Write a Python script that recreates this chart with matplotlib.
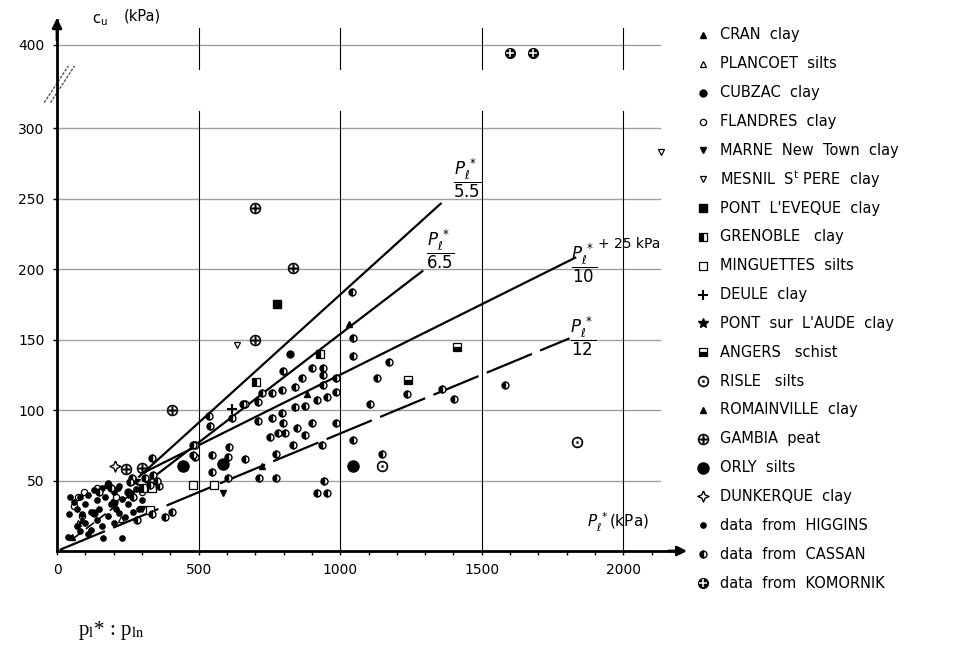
import numpy as np
import matplotlib
matplotlib.use("Agg")
import matplotlib.pyplot as plt

plt.rcParams['font.family'] = ['DejaVu Sans']

# ---- data (p_l* in kPa, c_u in kPa) ----
cassan_x = [1046, 1046, 799, 901, 940, 986, 940, 866, 940, 841, 795, 760, 724, 986, 954, 919, 710, 664,
            841, 876, 537, 618, 541, 710, 760, 795, 799, 848, 781, 806, 753, 876, 901, 986, 1046, 488,
            488, 548, 608, 604, 664, 548, 604, 714, 774, 774, 834, 936, 943, 919, 954, 1042, 1173, 1131,
            1237, 1360, 1403, 1106, 1148, 1583, 481, 481, 657,
            265, 310, 330, 340, 360, 258, 336, 353, 283, 336, 382, 406, 150, 190, 270]
cassan_y = [151, 138, 128, 130, 130, 123, 125, 123, 118, 116, 114, 112, 112, 113, 109, 107, 106, 104,
            102, 103, 96, 94, 89, 92, 94, 98, 91, 87, 84, 84, 81, 82, 91, 91, 79, 75,
            67, 68, 74, 67, 65, 56, 52, 52, 52, 69, 75, 75, 50, 41, 41, 184, 134, 123,
            111, 115, 108, 104, 69, 118, 75, 68, 104,
            52, 52, 47, 54, 46, 49, 66, 50, 22, 26, 24, 28, 42, 45, 38]
higgins_x = [60, 70, 80, 90, 100, 110, 120, 130, 140, 150, 160, 170, 180, 190, 200, 210, 220, 230,
             250, 260, 270, 280, 300, 100, 120, 140, 160, 180, 200, 220, 163, 110, 70, 80, 230, 290,
             240, 39, 46, 42, 216]
higgins_y = [35, 30, 38, 26, 33, 40, 28, 43, 36, 30, 45, 38, 48, 33, 42, 30, 46, 37,
             33, 41, 28, 44, 36, 20, 15, 22, 18, 25, 20, 27, 9, 12, 18, 14, 9, 30,
             24, 10, 38, 26, 45]
cubzac_x = [823, 130, 200, 250, 180]
cubzac_y = [140, 27, 35, 42, 47]
flandres_x = [60, 75, 95, 140, 210, 300, 90]
flandres_y = [32, 38, 42, 45, 38, 42, 25]
cran_x = [1032, 883, 53]
cran_y = [161, 111, 10]
romainville_x = [724, 90]
romainville_y = [60, 22]
plancoet_x = [226, 75]
plancoet_y = [23, 20]
marne_x = [587, 250, 300]
marne_y = [41, 40, 30]
mesnil_x = [636, 2134]
mesnil_y = [146, 283]
pontleveque_x = [777]
pontleveque_y = [175]
grenoble_x = [703, 930, 305]
grenoble_y = [120, 140, 45]
minguettes_x = [480, 555, 336, 329]
minguettes_y = [47, 47, 45, 29]
deule_x = [618]
deule_y = [101]
pontaude_x = [275]
pontaude_y = [50]
angers_x = [1413, 1240]
angers_y = [145, 121]
risle_x = [1148, 1837]
risle_y = [60, 77]
gambia_x = [700, 834, 700, 406, 244, 300]
gambia_y = [243, 201, 150, 100, 58, 59]
orly_x = [445, 587, 1046]
orly_y = [60, 62, 60]
dunkerque_x = [205]
dunkerque_y = [60]
komornik_x = [1600, 1682]
komornik_y = [390, 390]

ytick_vals = [50, 100, 150, 200, 250, 300, 400]
xtick_vals = [0, 500, 1000, 1500, 2000]


def yb(v):
    # broken axis: 300..400 squeezed
    v = np.asarray(v, dtype=float)
    return np.where(v <= 300, v, 300 + (v - 300) * 0.59)


fig = plt.figure(figsize=(9.65, 6.46), dpi=100)
ax = fig.add_axes([57 / 965, 95 / 646, 623 / 965, 531 / 646])
ax.set_xlim(0, 2200)
ax.set_ylim(0, 376.6)

# grid
for g in [50, 100, 150, 200, 250, 300, 400]:
    ax.plot([0, 2130], [yb(g), yb(g)], color='#a0a0a0', lw=1.0, zorder=1)
for g in [500, 1000, 1500, 2000]:
    ax.plot([g, g], [0, 312], color='black', lw=0.8, zorder=1)
    ax.plot([g, g], [342, 371], color='black', lw=0.8, zorder=1)

# spines / axes arrows
for s in ['top', 'right']:
    ax.spines[s].set_visible(False)
ax.spines['left'].set_linewidth(2.0)
ax.spines['bottom'].set_linewidth(2.0)
ax.annotate('', xy=(0, 380), xytext=(0, 360),
            arrowprops=dict(arrowstyle='-|>', color='black', lw=2, mutation_scale=14), annotation_clip=False)
ax.annotate('', xy=(2235, 0), xytext=(2150, 0),
            arrowprops=dict(arrowstyle='-|>', color='black', lw=2, mutation_scale=14), annotation_clip=False)
# break marks
for dx in [0, 22]:
    ax.plot([-45 + dx, 40 + dx], [318, 344], color='#555555', lw=1.0, ls=(0, (2, 1)), clip_on=False)

ax.set_xticks(xtick_vals)
ax.set_xticklabels([str(v) for v in xtick_vals])
ax.set_xticks(np.arange(100, 2200, 100), minor=True)
ax.set_yticks(yb(ytick_vals))
ax.set_yticklabels([str(v) for v in ytick_vals])
ax.tick_params(axis='both', labelsize=10, length=3, width=1, pad=6)
ax.tick_params(axis='x', which='minor', length=3, width=1)
for lab in ax.get_xticklabels() + ax.get_yticklabels():
    lab.set_family(['Liberation Sans Narrow', 'DejaVu Sans'])

# correlation lines
lw = 1.6
ax.plot([290, 1355], [290 / 5.5, 1355 / 5.5], color='black', lw=lw, zorder=2)
ax.plot([330, 1290], [330 / 6.5, 1290 / 6.5], color='black', lw=lw, zorder=2)
ax.plot([60, 330], [60 / 6.5, 330 / 6.5], color='black', lw=1.2, ls=(0, (6, 3)), zorder=2)
ax.plot([300, 1830], [300 / 10 + 25, 1830 / 10 + 25], color='black', lw=lw, zorder=2)
ax.plot([10, 1810], [10 / 12, 1810 / 12], color='black', lw=lw, ls=(0, (22, 4)), zorder=2)

fs = 12
ax.text(1449, 264, r'$\dfrac{P_\ell^{\,*}}{5.5}$', fontsize=fs, ha='center', va='center')
ax.text(1353, 214, r'$\dfrac{P_\ell^{\,*}}{6.5}$', fontsize=fs, ha='center', va='center')
ax.text(1862, 204, r'$\dfrac{P_\ell^{\,*}}{10}$', fontsize=fs, ha='center', va='center')
ax.text(1912, 218, '+ 25 kPa', fontsize=10, ha='left', va='center')
ax.text(1856, 152, r'$\dfrac{P_\ell^{\,*}}{12}$', fontsize=fs, ha='center', va='center')

ax.text(150, 371, r'c$_\mathrm{u}$', fontsize=10.5, ha='center', va='bottom', clip_on=False)
ax.text(235, 374, '(kPa)', fontsize=10.5, ha='left', va='bottom', clip_on=False)
ax.text(1870, 12, r'$P_\ell^{\,*}$(kPa)', fontsize=11, ha='left', va='bottom')

star4 = [(0, 1), (0.3, 0.3), (1, 0), (0.3, -0.3), (0, -1), (-0.3, -0.3), (-1, 0), (-0.3, 0.3), (0, 1)]

styles = [
    ('CRAN  clay', cran_x, cran_y, dict(marker='^', ms=4.5, mfc='black', mec='black')),
    ('PLANCOET  silts', plancoet_x, plancoet_y, dict(marker='^', ms=4.5, mfc='white', mec='black', mew=0.9)),
    ('CUBZAC  clay', cubzac_x, cubzac_y, dict(marker='o', ms=5, mfc='black', mec='black')),
    ('FLANDRES  clay', flandres_x, flandres_y, dict(marker='o', ms=4.5, mfc='white', mec='black', mew=0.9)),
    ('MARNE  New  Town  clay', marne_x, marne_y, dict(marker='v', ms=4.5, mfc='black', mec='black')),
    ('MESNIL  S$^\\mathrm{t}$ PERE  clay', mesnil_x, mesnil_y, dict(marker='v', ms=4.5, mfc='white', mec='black', mew=0.9)),
    ("PONT  L'EVEQUE  clay", pontleveque_x, pontleveque_y, dict(marker='s', ms=5.5, mfc='black', mec='black')),
    ('GRENOBLE   clay', grenoble_x, grenoble_y, dict(marker='s', ms=5.5, fillstyle='left', mfc='black', mfcalt='white', mec='black', mew=0.9)),
    ('MINGUETTES  silts', minguettes_x, minguettes_y, dict(marker='s', ms=6, mfc='white', mec='black', mew=0.9)),
    ('DEULE  clay', deule_x, deule_y, dict(marker='+', ms=7, mec='black', mew=1.5)),
    ("PONT  sur  L'AUDE  clay", pontaude_x, pontaude_y, dict(marker='*', ms=7, mfc='black', mec='black')),
    ('ANGERS   schist', angers_x, angers_y, dict(marker='s', ms=5.5, fillstyle='bottom', mfc='black', mfcalt='white', mec='black', mew=0.9)),
    ('RISLE   silts', risle_x, risle_y, dict(marker='$\\odot$', ms=8, mfc='black', mec='black', mew=0.3)),
    ('ROMAINVILLE  clay', romainville_x, romainville_y, dict(marker='^', ms=4.5, mfc='black', mec='black')),
    ('GAMBIA  peat', gambia_x, gambia_y, dict(marker='$\\oplus$', ms=8, mfc='black', mec='black', mew=0.3)),
    ('ORLY  silts', orly_x, orly_y, dict(marker='o', ms=8, mfc='black', mec='black')),
    ('DUNKERQUE  clay', dunkerque_x, dunkerque_y, dict(marker=star4, ms=8, mfc='white', mec='black', mew=1.0)),
    ('data  from  HIGGINS', higgins_x, higgins_y, dict(marker='o', ms=3.8, mfc='black', mec='black')),
    ('data  from  CASSAN', cassan_x, cassan_y, dict(marker='o', ms=5, fillstyle='left', mfc='black', mfcalt='white', mec='black', mew=1.0)),
    ('data  from  KOMORNIK', komornik_x, komornik_y, dict(marker='o', ms=7, mfc='black', mec='black')),
]

for name, xs, ys, st in styles:
    ax.plot(xs, yb(ys), ls='none', zorder=3, clip_on=False, **st)
ax.plot(komornik_x, yb(komornik_y), ls='none', marker='+', ms=6, mec='white', mew=1.1, zorder=4)

# legend drawn by hand on the right
lg = fig.add_axes([690 / 965, 0, 275 / 965, 1])
lg.set_xlim(0, 275)
lg.set_ylim(646, 0)
lg.axis('off')
row_y = np.linspace(35, 583, len(styles))
for (name, xs, ys, st), yy in zip(styles, row_y):
    lg.plot([13], [yy], ls='none', **st)
    if name.endswith('KOMORNIK'):
        lg.plot([13], [yy], ls='none', marker='+', ms=6, mec='white', mew=1.1)
    lg.text(30, yy, name, fontsize=10.5, va='center', ha='left')

fig.text(78 / 965, 1 - 630 / 646, r'p$_\mathrm{l}$* : p$_\mathrm{ln}$', fontsize=15,
         family='Liberation Serif', math_fontfamily='stix', va='center', ha='left')

fig.savefig('out.png', dpi=100, facecolor='white')
